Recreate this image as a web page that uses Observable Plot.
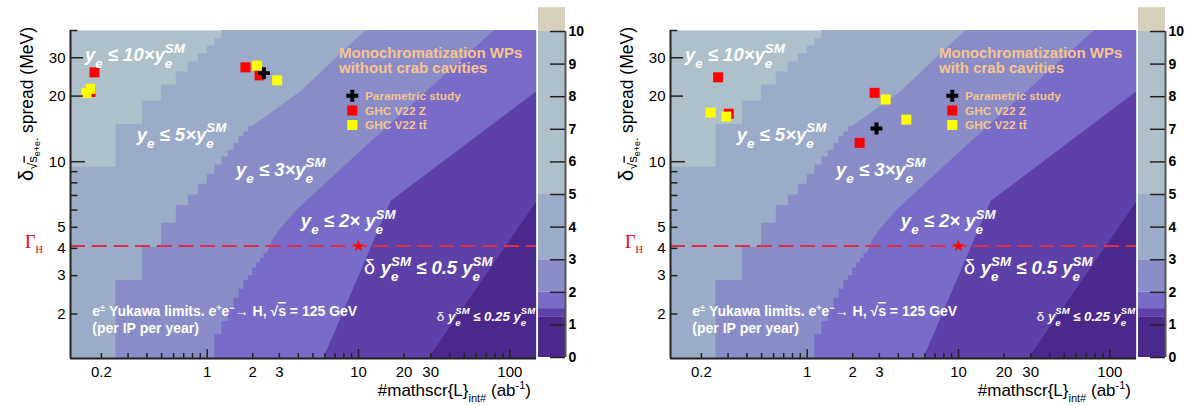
<!DOCTYPE html>
<html>
<head>
<meta charset="utf-8">
<script src="https://cdn.jsdelivr.net/npm/d3@7"></script>
<script src="https://cdn.jsdelivr.net/npm/@observablehq/plot@0.6"></script>
<style>
  html, body { margin: 0; padding: 0; background: #fff; overflow: hidden; }
  #root { position: relative; width: 1198px; height: 405px; overflow: hidden; }
  .panel { position: absolute; top: 0; width: 600px; height: 405px; }
</style>
</head>
<body>
<div id="root"></div>
<script>
// ---------------- DATA ----------------
// Contour levels of the colour scale (y_e limit in units of y_e^SM)
const levels = [0, 1.25, 1.5, 2, 3, 5, 10];
const levelColors = ["#4b288c", "#5d41a8", "#786cc8", "#8a8cc8", "#9aacc8", "#aec0ca"];
const overflowColor = "#d6d0bc";
const colorbarTicks = [0, 1, 2, 3, 4, 5, 6, 7, 8, 9, 10];

// L_int histogram bin width (ab^-1)
const binWidth = 0.125;
// Contour boundaries: delta spread (MeV) below which the level is reached, per L bin, then smooth tail [L, delta]
const bound5 = { start: 0.125, bins: [9.42, 14.8, 19.0, 22.5, 25.8, 28.7, 31.3, 34.0, 36.7], tail: [[1.25, 40], [150, 40]] };
const bound3 = { start: 0.25, bins: [2.85, 4.05, 5.22, 6.29, 7.04, 7.87, 8.75, 9.66, 10.5, 11.3, 12.1, 13.0, 13.7, 14.5], tail: [[4.14, 20.9], [11.2, 40], [150, 40]] };
const bound2 = { start: 1.125, bins: [1.61, 1.85, 2.1, 2.37, 2.6, 2.85, 3.0, 3.25, 3.45, 3.61, 3.8], tail: [[2.69, 4.30], [2.97, 4.78], [3.83, 5.9], [10.3, 11.1], [79.3, 40], [150, 40]] };
const bound15 = { start: 0, bins: [], tail: [[5.9, 1.25], [16.4, 6.56], [150, 20.9]] };
const bound125 = { start: 0, bins: [], tail: [[29.2, 1.25], [150, 6.5]] };

// Higgs width line and its marker
const gammaH = 4.1;
const starL = 10;

// Working points: [L_int (ab^-1), delta spread (MeV)]
const leftZ = [[0.180, 25.7], [0.1695, 20.9], [1.79, 27.1], [2.22, 24.9]];
const leftTT = [[0.1595, 20.7], [0.1695, 21.6], [2.14, 27.6], [2.90, 23.6]];
const leftParam = [[2.37, 25.5]];
const rightZ = [[0.258, 24.4], [0.3035, 16.6], [2.79, 20.7], [2.22, 12.2]];
const rightTT = [[0.230, 16.8], [0.292, 16.1], [3.30, 19.3], [4.52, 15.6]];
const rightParam = [[2.87, 14.2]];

// Axis ticks
const xTickLabels = [0.2, 1, 2, 3, 4, 5, 10, 20, 30, 100];
const xMajorTicks = [1, 10, 100];
const xMinorTicks = [0.2, 0.3, 0.4, 0.5, 0.6, 0.7, 0.8, 0.9, 2, 3, 4, 5, 6, 7, 8, 9, 20, 30, 40, 50, 60, 70, 80, 90];
const yTickLabels = [2, 3, 4, 5, 10, 20, 30];
const yMajorTicks = [10];
const yMidTicks = [20, 30];
const yMinorTicks = [2, 3, 4, 5, 6, 7, 8, 9, 40];

// ---------------- LAYOUT ----------------
const FONT = '"Liberation Sans", Arial, Helvetica, sans-serif';
const SERIF = '"Liberation Serif", "Times New Roman", serif';
const W = 600, H = 405;
const M = { left: 70, right: 64, top: 30, bottom: 47 };
const frameW = W - M.left - M.right, frameH = H - M.top - M.bottom;
const xDomain = [0.125, 150], yDomain = [1.25, 40];
const legendColor = "#f7c48e";

function boundaryPoints(b) {
  const pts = [];
  b.bins.forEach((d, i) => {
    const lo = b.start + i * binWidth;
    pts.push({ L: lo, d }, { L: lo + binWidth, d });
  });
  for (const [L, d] of b.tail) pts.push({ L, d });
  return pts;
}
const regions = [
  { b: bound5, color: levelColors[4] },
  { b: bound3, color: levelColors[3] },
  { b: bound2, color: levelColors[2] },
  { b: bound15, color: levelColors[1] },
  { b: bound125, color: levelColors[0] },
];

// Rich text: each part is its own <text>, laid out left to right; "back" stacks a part over the previous one
function richText(parent, x, y, parts, opts = {}) {
  const g = parent.append("g")
    .attr("transform", opts.transform || `translate(${x},${y})`)
    .attr("font-family", opts.family || FONT)
    .attr("fill", opts.fill || "#fff")
    .attr("font-weight", opts.weight || "bold")
    .attr("font-style", opts.style || "italic")
    .attr("text-anchor", "start");
  let cx = 0, prevX = 0;
  const items = [];
  for (const p of parts) {
    const t = g.append("text").attr("y", p.off || 0)
      .attr("font-size", p.size || opts.size || 17)
      .style("white-space", "pre")
      .text(p.t.replace(/ /g, "\u00a0"));
    if (p.weight) t.attr("font-weight", p.weight);
    if (p.style) t.attr("font-style", p.style);
    if (p.family) t.attr("font-family", p.family);
    if (p.fill) t.attr("fill", p.fill);
    if (p.deco) t.attr("text-decoration", p.deco);
    const w = t.node().getComputedTextLength();
    if (p.back) { t.attr("x", prevX); cx = Math.max(cx, prevX + w); }
    else { t.attr("x", cx); prevX = cx; cx += w; }
    items.push(t);
  }
  if (opts.anchor === "end") items.forEach(t => t.attr("x", +t.attr("x") - cx));
  return g;
}
// y_e (subscript only) and y_e^SM (stacked sub/superscript)
function yeOnly(size) {
  const s = Math.round(size * 0.72 * 10) / 10;
  return [{ t: "y", size }, { t: "e", size: s, off: size * 0.38 }];
}
function yeSM(size) {
  const s = Math.round(size * 0.72 * 10) / 10;
  return [
    { t: "y", size },
    { t: "e", size: s, off: size * 0.38 },
    { t: "SM", size: s, off: -size * 0.47, back: true },
  ];
}
const A = 18.5;
const annotations = [
  { L: 0.157, d: 28.7, parts: [...yeOnly(A), { t: " ≤ 10×", size: A }, ...yeSM(A)] },
  { L: 0.345, d: 12.4, parts: [...yeOnly(A), { t: " ≤ 5×", size: A }, ...yeSM(A)] },
  { L: 1.564, d: 8.55, parts: [...yeOnly(A), { t: " ≤ 3×", size: A }, ...yeSM(A)] },
  { L: 4.19, d: 4.97, parts: [...yeOnly(A), { t: " ≤ 2× ", size: A }, ...yeSM(A)] },
  { L: 10.96, d: 3.03, parts: [{ t: "δ ", size: 20, weight: "normal", style: "normal" }, ...yeSM(A), { t: " ≤ 0.5 ", size: A }, ...yeSM(A)] },
  { L: 33.1, d: 1.854, parts: [{ t: "δ ", size: 13.5, weight: "normal", style: "normal" }, ...yeSM(13.2), { t: " ≤ 0.25 ", size: 13.2 }, ...yeSM(13.2)] },
  { L: 0.1755, d: 1.947, opts: { style: "normal", size: 14 }, parts: [
      { t: "e" }, { t: "±", size: 9, off: -5 }, { t: " Yukawa limits. e" }, { t: "+", size: 9, off: -5 }, { t: "e" },
      { t: "−", size: 9, off: -5 }, { t: "→", weight: "normal" }, { t: " H, √" }, { t: "s", deco: "overline" }, { t: " = 125 GeV" }] },
  { L: 0.1755, d: 1.627, opts: { style: "normal", size: 14 }, parts: [{ t: "(per IP per year)" }] },
];

const root = d3.select("#root");

function panel(left, cfg) {
  const div = root.append("div").attr("class", "panel").style("left", left + "px");
  const dotOpts = { x: d => d[0], y: d => d[1] };
  const plot = Plot.plot({
    width: W, height: H,
    marginLeft: M.left, marginRight: M.right, marginTop: M.top, marginBottom: M.bottom,
    style: { background: "transparent", fontFamily: FONT, overflow: "visible" },
    x: { type: "log", domain: xDomain, axis: null },
    y: { type: "log", domain: yDomain, axis: null },
    marks: [
      Plot.frame({ fill: levelColors[5], stroke: null }),
      ...regions.map(r => Plot.areaY(boundaryPoints(r.b), { x: "L", y1: yDomain[0], y2: "d", fill: r.color, curve: "linear", clip: true })),
      Plot.ruleY([gammaH], { stroke: "#d9304a", strokeWidth: 2, strokeDasharray: "15,6.7" }),
      Plot.dot([[starL, gammaH]], { ...dotOpts, symbol: "star", fill: "#ff0000", r: 3.6 }),
      Plot.dot(cfg.z, { ...dotOpts, symbol: "square", fill: "#ff0000", r: 5.64 }),
      Plot.dot(cfg.tt, { ...dotOpts, symbol: "square", fill: "#ffff00", r: 5.64 }),
      Plot.dot(cfg.param, { ...dotOpts, symbol: "cross", fill: "#000", r: 5 }),
      Plot.tickX(xMajorTicks, { x: d => d, insetTop: frameH - 9, stroke: "#222", strokeWidth: 1.5 }),
      Plot.tickX(xMinorTicks, { x: d => d, insetTop: frameH - 5, stroke: "#222", strokeWidth: 1.5 }),
      Plot.tickY(yMajorTicks, { y: d => d, insetRight: frameW - 15, stroke: "#222", strokeWidth: 1.5 }),
      Plot.tickY(yMidTicks, { y: d => d, insetRight: frameW - 13, stroke: "#222", strokeWidth: 1.5 }),
      Plot.tickY(yMinorTicks, { y: d => d, insetRight: frameW - 7.5, stroke: "#222", strokeWidth: 1.5 }),
      Plot.ruleX([xDomain[0]], { stroke: "#222", strokeWidth: 2 }),
      Plot.ruleY([yDomain[0]], { stroke: "#222", strokeWidth: 2 }),
      Plot.axisX({ ticks: xTickLabels, tickFormat: d => String(d), tickSize: 0, tickPadding: 8, fontSize: 15, label: null }),
      Plot.axisY({ ticks: yTickLabels, tickFormat: d => String(d), tickSize: 0, tickPadding: 5, fontSize: 15, label: null }),
    ]
  });
  div.node().append(plot);

  const bands = levels.slice(0, -1).map((lo, i) => ({ lo, hi: levels[i + 1], color: levelColors[i] }));
  const cbar = Plot.plot({
    width: 70, height: H,
    marginLeft: 8, marginRight: 35, marginTop: 31, marginBottom: 48,
    style: { background: "transparent", fontFamily: FONT, overflow: "visible" },
    x: { domain: [0, 1], axis: null },
    y: { domain: [0, 10], axis: null },
    color: { type: "identity" },
    marks: [
      Plot.rect(bands, { x1: 0, x2: 1, y1: "lo", y2: "hi", fill: "color" }),
      Plot.rect([{ lo: 10, hi: 10.73 }], { x1: 0, x2: 1, y1: "lo", y2: "hi", fill: overflowColor }),
      Plot.tickY(colorbarTicks, { y: d => d, insetLeft: 12, stroke: "#222", strokeWidth: 1.5 }),
      Plot.ruleX([1], { y1: 0, y2: 10, stroke: "#555", strokeWidth: 2 }),
      Plot.axisY({ anchor: "right", ticks: colorbarTicks, tickSize: 0, tickPadding: 3, fontSize: 14, fontWeight: "bold", label: null }),
    ]
  });
  cbar.style.position = "absolute";
  cbar.style.left = "530px";
  cbar.style.top = "0px";
  div.node().append(cbar);

  // ---- overlays (text) ----
  const sx = plot.scale("x"), sy = plot.scale("y");
  const svg = d3.select(plot);
  const g = svg.append("g").attr("text-anchor", "start");
  for (const a of annotations) {
    richText(g, sx.apply(a.L), sy.apply(a.d), a.parts, Object.assign({}, a.opts || {}));
  }
  // Gamma_H label
  richText(g, 25, sy.apply(gammaH) + 2, [
    { t: "Γ", size: 18 }, { t: "H", size: 10.5, off: 5 }
  ], { fill: "#ee0000", weight: "normal", style: "normal", family: SERIF });

  // Legend
  const lg = g.append("g").attr("font-family", FONT).attr("font-weight", "bold").attr("fill", legendColor).attr("text-anchor", "start");
  lg.append("text").attr("x", 339).attr("y", 57.5).attr("font-size", 15).text("Monochromatization WPs");
  lg.append("text").attr("x", 339).attr("y", 73).attr("font-size", 15).text(cfg.title2);
  const entries = [
    { sym: "cross", color: "#000", label: "Parametric study", y: 95.7 },
    { sym: "square", color: "#ff0000", label: "GHC V22 Z", y: 110.5 },
    { sym: "square", color: "#ffff00", label: "GHC V22 tt\u0304", y: 125 },
  ];
  for (const e of entries) {
    const shape = e.sym === "cross" ? d3.symbolCross : d3.symbolSquare;
    const size = e.sym === "cross" ? Math.PI * 25 : 100;
    lg.append("path").attr("d", d3.symbol(shape, size)()).attr("fill", e.color)
      .attr("transform", `translate(352.3,${e.y})`);
    lg.append("text").attr("x", 365).attr("y", e.y + 4).attr("font-size", 11.8).text(e.label);
  }

  // Axis titles
  richText(g, 0, 0, [
    { t: "#mathscr{L}" }, { t: "int#", size: 11, off: 6 }, { t: " (ab" }, { t: "-1", size: 11, off: -7 }, { t: ")" }
  ], { fill: "#000", weight: "normal", style: "normal", size: 17, anchor: "end", transform: "translate(531,396)" });
  richText(g, 0, 0, [
    { t: "δ", size: 20 }, { t: "√", size: 13, off: 4 }, { t: "s", size: 13, off: 4, deco: "overline" },
    { t: "e+e-", size: 9, off: 7 }, { t: " spread (MeV)", size: 17.5 }
  ], { fill: "#000", weight: "normal", style: "normal", anchor: "end", transform: "translate(32.5,27) rotate(-90)" });
}

panel(0, { z: leftZ, tt: leftTT, param: leftParam, title2: "without crab cavities" });
panel(600, { z: rightZ, tt: rightTT, param: rightParam, title2: "with crab cavities" });
</script>
</body>
</html>
